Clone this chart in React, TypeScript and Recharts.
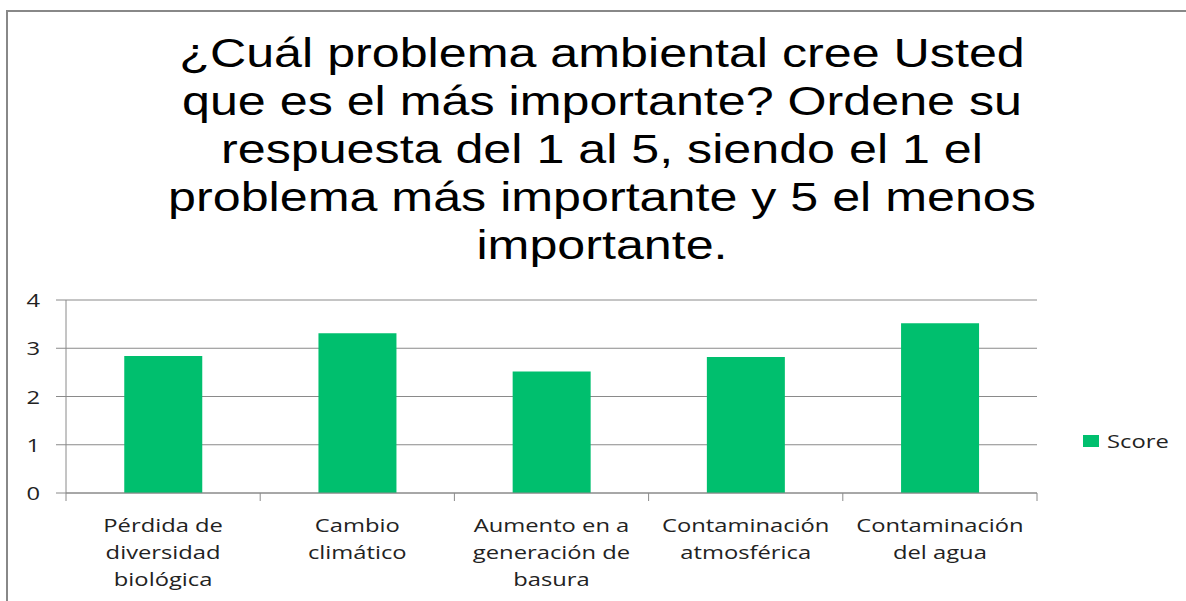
import React from "react";
import { BarChart, Bar, XAxis, YAxis, CartesianGrid, Legend } from "recharts";

const categories = [
  "Pérdida de\ndiversidad\nbiológica",
  "Cambio\nclimático",
  "Aumento en a\ngeneración de\nbasura",
  "Contaminación\natmosférica",
  "Contaminación\ndel agua",
];
const scores = [2.84, 3.31, 2.52, 2.82, 3.52];
const yTicks = [0, 1, 2, 3, 4];
const titleLines = [
  "¿Cuál problema ambiental cree Usted",
  "que es el más importante? Ordene su",
  "respuesta del 1 al 5, siendo el 1 el",
  "problema más importante y 5 el menos",
  "importante.",
];

const data = categories.map((c, i) => ({ name: c, Score: scores[i] }));

const GREEN = "#00bf6e";
const GRID = "#8a8a8a";
const FONT = "'Open Sans', sans-serif";
const SX = 1.25;

const XTick = (props: any) => {
  const { x, y, payload, index } = props;
  const lines = String(payload.value).split("\n");
  const half = payload.offset || 0;
  const isLast = index === categories.length - 1;
  return (
    <g>
      <line x1={x - half} x2={x - half} y1={y} y2={y + 8} stroke={GRID} />
      {isLast && <line x1={x + half} x2={x + half} y1={y} y2={y + 8} stroke={GRID} />}
      <g transform={`translate(${x},${y}) scale(${SX},1)`}>
        {lines.map((l, i) => (
          <text
            key={i}
            x={0}
            y={39 + i * 27}
            textAnchor="middle"
            fontFamily={FONT}
            fontSize={19}
            fill="#222"
          >
            {l}
          </text>
        ))}
      </g>
    </g>
  );
};

const YTick = (props: any) => {
  const { x, y, payload } = props;
  return (
    <g transform={`translate(${x},${y}) scale(${SX},1)`}>
      <text x={0} y={0} dy={7} textAnchor="end" fontFamily={FONT} fontSize={19} fill="#222">
        {payload.value}
      </text>
    </g>
  );
};

const LegendContent = (props: any) => {
  const { payload } = props;
  return (
    <div>
      {(payload || []).map((p: any, i: number) => (
        <div key={i} style={{ display: "flex", alignItems: "center", height: 26 }}>
          <span style={{ display: "inline-block", width: 16, height: 12, background: p.color, marginRight: 8 }} />
          <span
            style={{
              fontFamily: FONT,
              fontSize: 19,
              color: "#222",
              display: "inline-block",
              transform: `scaleX(${SX})`,
              transformOrigin: "left center",
              lineHeight: "26px",
            }}
          >
            {p.value}
          </span>
        </div>
      ))}
    </div>
  );
};

export default function App() {
  return (
    <div
      style={{
        position: "fixed",
        left: 0,
        top: 0,
        width: 1186,
        height: 601,
        overflow: "hidden",
        background: "#fff",
      }}
    >
      <div
        style={{
          position: "absolute",
          left: 6,
          top: 10,
          width: 1300,
          height: 700,
          borderTop: "2px solid #888",
          borderLeft: "2px solid #888",
          boxSizing: "border-box",
        }}
      />
      <div
        style={{
          position: "absolute",
          left: 102,
          top: 29,
          width: 1000,
          textAlign: "center",
          fontFamily: "'Liberation Sans', Arial, sans-serif",
          fontSize: 40,
          lineHeight: "48px",
          color: "#000",
          whiteSpace: "nowrap",
          transform: `scaleX(1.255)`,
          transformOrigin: "center top",
        }}
      >
        {titleLines.map((l, i) => (
          <div key={i}>{l}</div>
        ))}
      </div>
      <div style={{ position: "absolute", left: 0, top: 0 }}>
        <BarChart
          width={1186}
          height={601}
          data={data}
          margin={{ top: 300, right: 149, bottom: 8, left: 0 }}
          barCategoryGap="30%"
        >
          <CartesianGrid vertical={false} stroke={GRID} strokeWidth={1} />
          <XAxis
            dataKey="name"
            interval={0}
            height={100}
            axisLine={{ stroke: GRID }}
            tickLine={false}
            tickSize={0}
            tickMargin={0}
            tick={<XTick />}
          />
          <YAxis
            domain={[0, 4]}
            ticks={yTicks}
            width={66}
            axisLine={{ stroke: GRID }}
            tickLine={{ stroke: GRID }}
            tickSize={10}
            tickMargin={16}
            tick={<YTick />}
          />
          <Legend
            layout="horizontal"
            verticalAlign="middle"
            align="center"
            content={<LegendContent />}
            wrapperStyle={{ left: 1083, top: 428, width: 100 }}
          />
          <Bar dataKey="Score" fill={GREEN} isAnimationActive={false} />
        </BarChart>
      </div>
    </div>
  );
}
